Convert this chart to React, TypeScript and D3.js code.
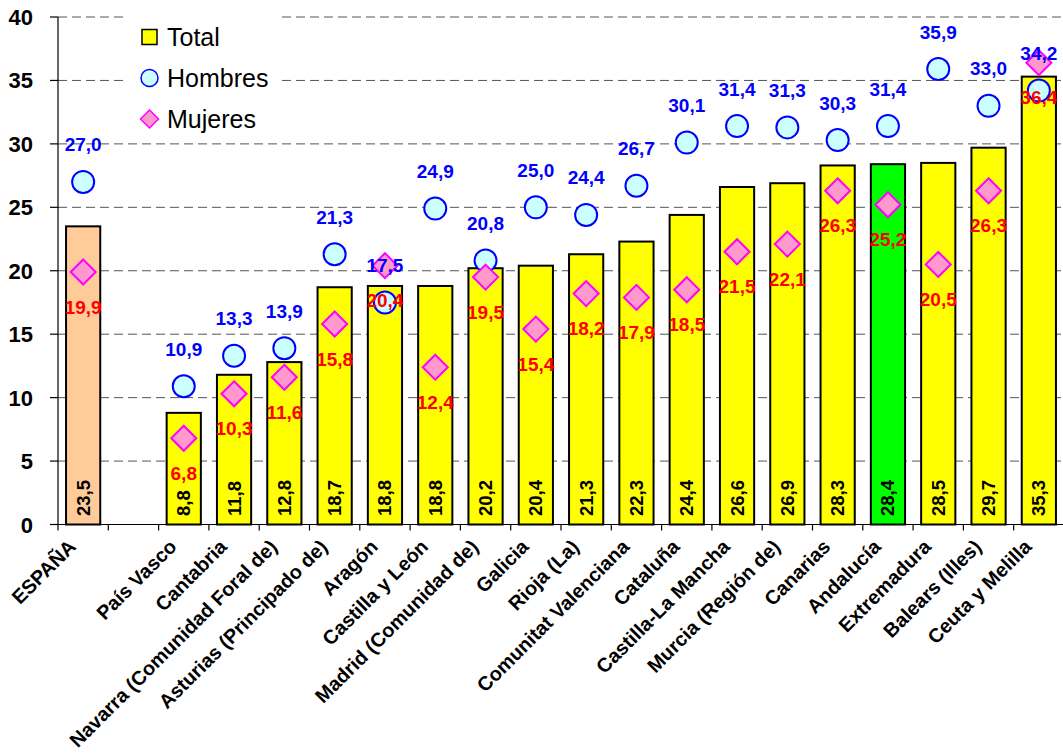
import React from "react";
import * as d3 from "d3";

const categories = [
  "ESPAÑA", "", "País Vasco", "Cantabria", "Navarra (Comunidad Foral de)",
  "Asturias (Principado de)", "Aragón", "Castilla y León", "Madrid (Comunidad de)",
  "Galicia", "Rioja (La)", "Comunitat Valenciana", "Cataluña", "Castilla-La Mancha",
  "Murcia (Región de)", "Canarias", "Andalucía", "Extremadura", "Balears (Illes)", "Ceuta y Melilla",
];
const total: (number | null)[] = [23.5, null, 8.8, 11.8, 12.8, 18.7, 18.8, 18.8, 20.2, 20.4, 21.3, 22.3, 24.4, 26.6, 26.9, 28.3, 28.4, 28.5, 29.7, 35.3];
const hombres: (number | null)[] = [27.0, null, 10.9, 13.3, 13.9, 21.3, 17.5, 24.9, 20.8, 25.0, 24.4, 26.7, 30.1, 31.4, 31.3, 30.3, 31.4, 35.9, 33.0, 34.2];
const mujeres: (number | null)[] = [19.9, null, 6.8, 10.3, 11.6, 15.8, 20.4, 12.4, 19.5, 15.4, 18.2, 17.9, 18.5, 21.5, 22.1, 26.3, 25.2, 20.5, 26.3, 36.4];
const yTicks = [0, 5, 10, 15, 20, 25, 30, 35, 40];
const legendItems = ["Total", "Hombres", "Mujeres"];

const W = 1063;
const H = 756;
const FONT = "Arial, 'Liberation Sans', sans-serif";
const fmt = (v: number) => v.toFixed(1).replace(".", ",");

export default function App() {
  const x = d3
    .scaleBand<number>()
    .domain(categories.map((_, i) => i))
    .range([58, 1064])
    .paddingInner(0.32)
    .paddingOuter(0.16);
  const y = d3.scaleLinear().domain([0, 40]).range([524.5, 17]);
  const step = x.step();
  const x0 = 58;
  const bw = x.bandwidth();
  const cx = (i: number) => (x(i) as number) + bw / 2;

  const barFill = (i: number) =>
    categories[i] === "ESPAÑA" ? "#FFCC99" : categories[i] === "Andalucía" ? "#00FF00" : "#FFFF00";

  const diamond = (r: number) => `M0,${-r}L${r},0L0,${r}L${-r},0Z`;

  return (
    <svg width={W} height={H} style={{ position: "absolute", left: 0, top: 0, display: "block", background: "#fff" }} fontFamily={FONT}>
      <rect x={0} y={0} width={W} height={H} fill="#fff" />
      {yTicks.filter((t) => t > 0).map((t) => (
        <line key={"g" + t} x1={58} x2={W} y1={y(t)} y2={y(t)} stroke="#555" strokeWidth={1} strokeDasharray="9,5" />
      ))}
      <rect x={128} y={4} width={152} height={132} fill="#fff" />
      <line x1={58} x2={58} y1={y(40)} y2={y(0)} stroke="#000" strokeWidth={1.2} />
      {yTicks.map((t) => (
        <g key={"yt" + t}>
          <line x1={50} x2={58} y1={y(t)} y2={y(t)} stroke="#000" strokeWidth={1.2} />
          <text x={33} y={y(t) + 8} textAnchor="end" fontSize={22} fontWeight="bold" fill="#000">
            {t}
          </text>
        </g>
      ))}
      <line x1={58} x2={W} y1={y(0)} y2={y(0)} stroke="#000" strokeWidth={1.2} />
      {categories.map((_, i) => (
        <line key={"xt" + i} x1={x0 + i * step} x2={x0 + i * step} y1={y(0)} y2={y(0) + 6} stroke="#000" strokeWidth={1.2} />
      ))}
      {total.map((v, i) =>
        v == null ? null : (
          <rect key={"b" + i} x={x(i)} y={y(v)} width={bw} height={y(0) - y(v)} fill={barFill(i)} stroke="#000" strokeWidth={2} />
        )
      )}
      {total.map((v, i) =>
        v == null ? null : (
          <text key={"tl" + i} transform={`translate(${cx(i) + 6.5},${516}) rotate(-90)`} fontSize={18.5} fontWeight="bold" fill="#000">
            {fmt(v)}
          </text>
        )
      )}
      {hombres.map((v, i) =>
        v == null ? null : (
          <circle key={"h" + i} cx={cx(i)} cy={y(v)} r={11} fill="#CCFFFF" stroke="#0000FF" strokeWidth={2} />
        )
      )}
      {mujeres.map((v, i) =>
        v == null ? null : (
          <path key={"m" + i} d={diamond(12.5)} transform={`translate(${cx(i)},${y(v)})`} fill="#FF99CC" stroke="#FF00FF" strokeWidth={2} />
        )
      )}
      {hombres.map((v, i) =>
        v == null ? null : (
          <text key={"hl" + i} x={cx(i)} y={y(v) - 30.5} textAnchor="middle" fontSize={19} fontWeight="bold" fill="#0000FF">
            {fmt(v)}
          </text>
        )
      )}
      {mujeres.map((v, i) =>
        v == null ? null : (
          <text key={"ml" + i} x={cx(i)} y={y(v) + 41.5} textAnchor="middle" fontSize={19} fontWeight="bold" fill="#FF0000">
            {fmt(v)}
          </text>
        )
      )}
      {categories.map((c, i) =>
        c === "" ? null : (
          <text key={"cl" + i} transform={`translate(${cx(i) - 6},${548}) rotate(-45)`} textAnchor="end" fontSize={19.8} fontWeight="bold" fill="#000">
            {c}
          </text>
        )
      )}
      {legendItems.map((name, k) => {
        const ly = 37 + k * 41;
        return (
          <g key={"lg" + k}>
            {k === 0 && <rect x={142} y={ly - 7.5} width={15} height={15} fill="#FFFF00" stroke="#000" strokeWidth={1.5} />}
            {k === 1 && <circle cx={149.5} cy={ly} r={8.5} fill="#CCFFFF" stroke="#0000FF" strokeWidth={1.5} />}
            {k === 2 && <path d={diamond(9)} transform={`translate(149.5,${ly})`} fill="#FF99CC" stroke="#FF00FF" strokeWidth={1.5} />}
            <text x={167} y={ly + 9} fontSize={25} fill="#000">
              {name}
            </text>
          </g>
        );
      })}
    </svg>
  );
}
